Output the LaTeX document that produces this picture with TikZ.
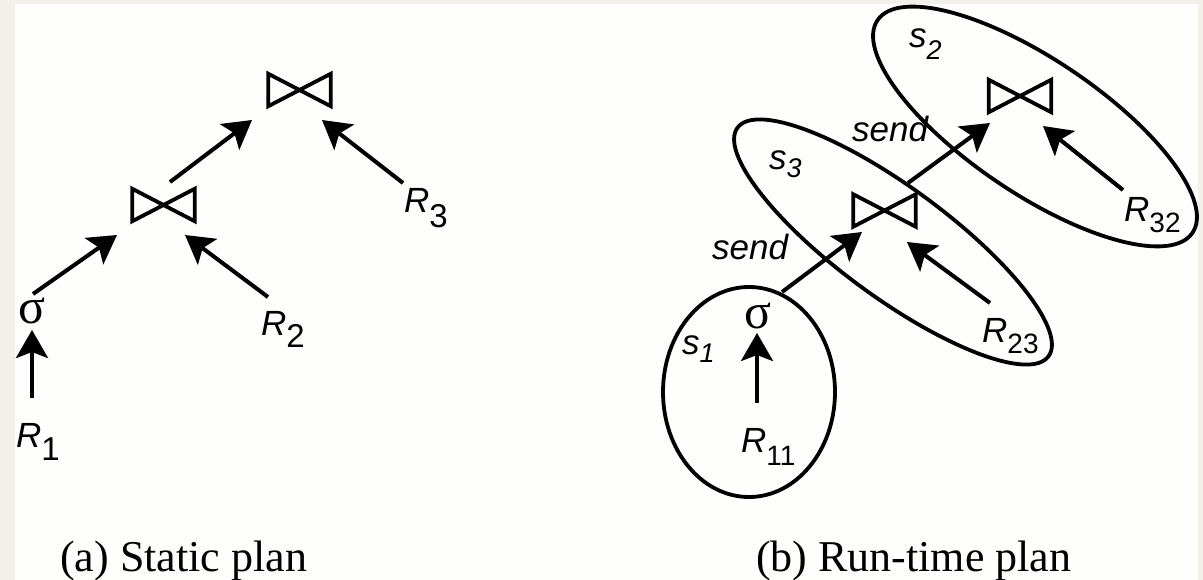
\documentclass[tikz,border=0pt]{standalone}
\usepackage{fontspec}
\setmainfont{Liberation Serif}
\setsansfont{Liberation Sans}
\usetikzlibrary{arrows.meta,calc}
\definecolor{framecol}{HTML}{F3F0EA}
\definecolor{papercol}{HTML}{FEFEFC}
\newcommand{\lowsub}[3]{\raisebox{-#2}{\fontsize{#1}{#1}\selectfont #3}}
\newcommand{\bowtiedraw}[1]{\draw[bt] (#1.north west) -- (#1.south west) -- (#1.north east) -- (#1.south east) -- cycle;}
\begin{document}
\begin{tikzpicture}[x=1pt,y=-1pt,
  arr/.style={line width=4pt, -{Stealth[length=28pt,width=32pt,inset=6pt]}},
  bt/.style={line width=3.8pt, line join=miter},
  joinbox/.style={inner sep=0pt, minimum width=62pt, minimum height=32pt},
  lab/.style={inner sep=0pt, anchor=base west, font=\sffamily\itshape\fontsize{35pt}{38pt}\selectfont},
  sendlab/.style={inner sep=0pt, anchor=base west, font=\sffamily\itshape\fontsize{35pt}{38pt}\selectfont},
  sig/.style={inner sep=0pt, font=\fontsize{50pt}{54pt}\selectfont},
  captxt/.style={inner sep=0pt, anchor=base west, font=\fontsize{44pt}{48pt}\selectfont},
  part/.style={line width=3.8pt}]
\useasboundingbox (0,0) rectangle (1203,580);
\fill[framecol] (0,0) rectangle (1203,580);
\fill[papercol] (15,4) rectangle (1198,580);

% ---------- (a) static plan ----------
\node[joinbox] (j2) at (299.5,90) {};
\node[joinbox] (j1) at (163.5,205) {};
\bowtiedraw{j2}
\bowtiedraw{j1}
\node[sig] (sg) at (32,311) {σ};
\node[lab] (R1) at (16,447) {R\lowsub{33pt}{13pt}{\upshape 1}};
\node[lab] (R2) at (261,335) {R\lowsub{33pt}{13pt}{\upshape 2}};
\node[lab] (R3) at (404,213) {R\lowsub{33pt}{15pt}{\upshape 3}};

\draw[arr] ($(R1.base west)+(16,-49)$) -- ($(sg)+(0,19)$);
\draw[arr] ($(sg)+(1,-17)$) -- ($(j1)+(-46.5,30)$);
\draw[arr] ($(R2.base west)+(7,-38)$) -- ($(j1)+(21.5,30)$);
\draw[arr] ($(j1)+(6.5,-23)$) -- ($(j2)+(-47.5,30)$);
\draw[arr] ($(R3.base west)+(-1,-30)$) -- ($(j2)+(22.5,30)$);

\node[captxt] (capa) at (60,571) {(a) Static plan};

% ---------- (b) run-time plan ----------
\draw[part, rotate around={-34:(1035,126.5)}] (1035,126.5) ellipse [x radius=190pt, y radius=67pt];
\draw[part, rotate around={-36.3:(893,242)}] (893,242) ellipse [x radius=193pt, y radius=55pt];
\draw[part] (749,392) ellipse [x radius=86pt, y radius=105pt];

\node[joinbox] (j4) at (1020,96) {};
\node[joinbox] (j3) at (884.5,210.5) {};
\bowtiedraw{j4}
\bowtiedraw{j3}
\node[sig] (sgr) at (758,316) {σ};
\node[lab] (R11) at (741,452) {R\lowsub{28pt}{13pt}{\upshape 11}};
\node[lab] (R23) at (982,342) {R\lowsub{28pt}{11pt}{\upshape 23}};
\node[lab] (R32) at (1124,222) {R\lowsub{28pt}{11pt}{\upshape 32}};
\node[lab] (s1) at (682,355) {s\lowsub{27pt}{8pt}{1}};
\node[lab] (s3) at (769,170) {s\lowsub{27pt}{8pt}{3}};
\node[lab] (s2) at (909,48) {s\lowsub{27pt}{12pt}{2}};
\node[sendlab] (send1) at (712,260) {send};
\node[sendlab] (send2) at (852,142) {send};

\draw[arr] ($(R11.base west)+(16,-49)$) -- ($(sgr)+(-1,17)$);
\draw[arr] ($(sgr)+(24,-24)$) -- ($(j3)+(-22.5,21.5)$);
\draw[arr] ($(R23.base west)+(8,-39)$) -- ($(j3)+(22.5,31.5)$);
\draw[arr] ($(j3)+(23.5,-27.5)$) -- ($(j4)+(-30,27)$);
\draw[arr] ($(R32.base west)+(-1,-32)$) -- ($(j4)+(23,30)$);

\node[captxt] (capb) at (756,571) {(b) Run-time plan};
\end{tikzpicture}
\end{document}
